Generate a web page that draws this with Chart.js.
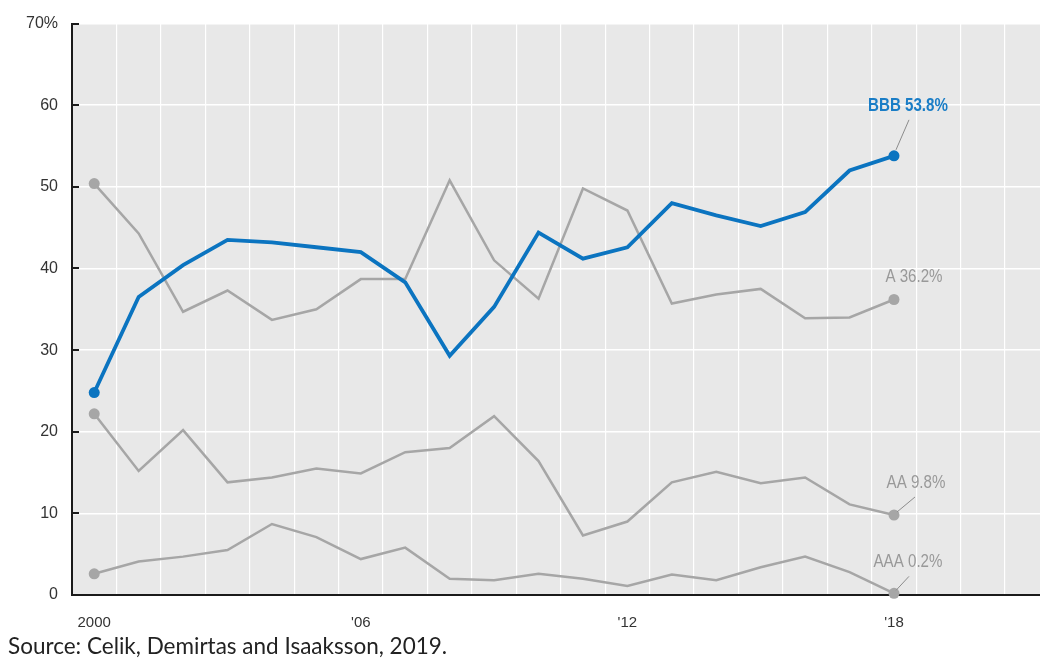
<!DOCTYPE html>
<html>
<head>
<meta charset="utf-8">
<script src="https://cdn.jsdelivr.net/npm/chart.js@4/dist/chart.umd.min.js"></script>
<style>
  html, body { margin: 0; padding: 0; background: #fff; overflow: hidden; }
  #wrap { position: relative; width: 1055px; height: 660px; }
  #source {
    position: absolute; left: 8px; top: 635px;
    font-family: Lato, "Open Sans", sans-serif; font-size: 22.5px; line-height: 1; color: #222;
    white-space: nowrap;
  }
</style>
</head>
<body>
<div id="wrap">
  <canvas id="chart"></canvas>
  <div id="source">Source: Celik, Demirtas and Isaaksson, 2019.</div>
</div>
<script>
// 年次（2019〜2021は空の目盛り）
const years = [2000, 2001, 2002, 2003, 2004, 2005, 2006, 2007, 2008, 2009, 2010,
               2011, 2012, 2013, 2014, 2015, 2016, 2017, 2018, 2019, 2020, 2021];
const tickYears = [2000, 2006, 2012, 2018];
const tickLabels = ["2000", "'06", "'12", "'18"];

const ratings = ["BBB", "A", "AA", "AAA"];

const bbbShare = [24.8, 36.5, 40.4, 43.5, 43.2, 42.6, 42.0, 38.3, 29.3, 35.3, 44.4,
                  41.2, 42.6, 48.0, 46.5, 45.2, 46.9, 52.0, 53.8];
const aShare   = [50.4, 44.3, 34.7, 37.3, 33.7, 35.0, 38.7, 38.7, 50.8, 41.0, 36.3,
                  49.8, 47.1, 35.7, 36.8, 37.5, 33.9, 34.0, 36.2];
const aaShare  = [22.2, 15.2, 20.2, 13.8, 14.4, 15.5, 14.9, 17.5, 18.0, 21.9, 16.4,
                  7.3, 9.0, 13.8, 15.1, 13.7, 14.4, 11.1, 9.8];
const aaaShare = [2.6, 4.1, 4.7, 5.5, 8.7, 7.1, 4.4, 5.8, 2.0, 1.8, 2.6,
                  2.0, 1.1, 2.5, 1.8, 3.4, 4.7, 2.8, 0.2];

const yTicks = [0, 10, 20, 30, 40, 50, 60, 70];

const BLUE = "#0b74c0";
const GREY = "#a6a6a6";
const FONT = "'Liberation Sans', Arial, sans-serif";

// 最初と最後の点だけ丸を描く
function endPoints(ctx) {
  const n = ctx.dataset.data.length;
  return (ctx.dataIndex === 0 || ctx.dataIndex === n - 1) ? 5.5 : 0;
}

function makeLine(name, data, color, width) {
  return {
    label: name,
    data: data,
    borderColor: color,
    backgroundColor: color,
    borderWidth: width,
    tension: 0,
    clip: false,
    pointRadius: endPoints,
    pointBorderWidth: 0,
    pointHoverRadius: 0,
  };
}

// 系列末尾のラベル位置（点からのずれ）
const endLabels = [
  { dx: 14, dy: -50, color: "#1a7dc6", bold: true, lead: [2, -6, 15, -36] },
  { dx: 20, dy: -22, color: "#999", bold: false, lead: null },
  { dx: 22, dy: -32, color: "#999", bold: false, lead: [3, -3, 21, -18] },
  { dx: 14, dy: -31, color: "#999", bold: false, lead: [2, -3, 15, -17] },
];

const plotDecor = {
  id: "plotDecor",
  beforeDraw(chart) {
    const { ctx, chartArea: a } = chart;
    ctx.save();
    ctx.fillStyle = "#e8e8e8";
    ctx.fillRect(a.left, a.top, a.right - a.left, a.bottom - a.top);
    ctx.restore();
  },
  afterDraw(chart) {
    const { ctx, chartArea: a, scales } = chart;
    ctx.save();
    // y軸の内向き目盛り
    ctx.strokeStyle = "#1a1a1a";
    ctx.lineWidth = 2;
    yTicks.forEach(v => {
      const y = Math.round(scales.y.getPixelForValue(v));
      ctx.beginPath();
      ctx.moveTo(a.left, y);
      ctx.lineTo(a.left + 7, y);
      ctx.stroke();
    });
    // 系列ラベル（細長い書体に見せるため横を縮める）
    chart.data.datasets.forEach((ds, i) => {
      const meta = chart.getDatasetMeta(i);
      const last = meta.data[meta.data.length - 1];
      const v = ds.data[ds.data.length - 1];
      const cfg = endLabels[i];
      if (cfg.lead) {
        ctx.strokeStyle = "#8c8c8c";
        ctx.lineWidth = 1;
        ctx.beginPath();
        ctx.moveTo(last.x + cfg.lead[0], last.y + cfg.lead[1]);
        ctx.lineTo(last.x + cfg.lead[2], last.y + cfg.lead[3]);
        ctx.stroke();
      }
      ctx.save();
      ctx.translate(last.x + cfg.dx, last.y + cfg.dy);
      ctx.scale(0.84, 1);
      ctx.fillStyle = cfg.color;
      ctx.font = (cfg.bold ? "bold " : "") + "18px " + FONT;
      ctx.textAlign = "center";
      ctx.textBaseline = "middle";
      ctx.fillText(ratings[i] + " " + v.toFixed(1) + "%", 0, 0);
      ctx.restore();
    });
    ctx.restore();
  },
};

const chart = new Chart(document.getElementById("chart").getContext("2d"), {
  type: "line",
  data: {
    labels: years,
    datasets: [
      makeLine("BBB", bbbShare, BLUE, 3.8),
      makeLine("A", aShare, GREY, 2.5),
      makeLine("AA", aaShare, GREY, 2.5),
      makeLine("AAA", aaaShare, GREY, 2.5),
    ],
  },
  options: {
    responsive: true,
    maintainAspectRatio: false,
    animation: false,
    layout: { padding: { top: 20, left: 0, right: 0, bottom: 0 } },
    plugins: {
      legend: { display: false },
      tooltip: { enabled: false },
    },
    scales: {
      x: {
        type: "category",
        offset: true,
        grid: { color: "#ffffff", lineWidth: 1.2, offset: true, drawTicks: false },
        border: { color: "#1a1a1a", width: 2 },
        ticks: {
          autoSkip: false,
          maxRotation: 0,
          padding: 19,
          color: "#333",
          font: { family: FONT, size: 15 },
          callback: function (value) {
            const k = tickYears.indexOf(years[value]);
            return k >= 0 ? tickLabels[k] : "";
          },
        },
        afterFit: s => { s.height = 65; },
      },
      y: {
        min: 0,
        max: 70,
        grid: { color: "#ffffff", lineWidth: 1.5, drawTicks: false },
        border: { color: "#1a1a1a", width: 2 },
        afterBuildTicks: s => { s.ticks = yTicks.map(v => ({ value: v })); },
        ticks: {
          padding: 14,
          color: "#333",
          font: { family: FONT, size: 16 },
          callback: v => (v === 70 ? "70%" : v),
        },
        afterFit: s => { s.width = 72; },
      },
    },
  },
  plugins: [plotDecor],
});
</script>
</body>
</html>
